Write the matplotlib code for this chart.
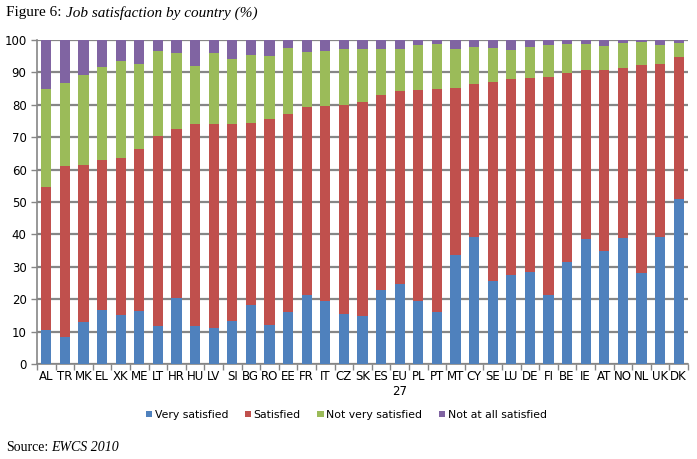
import matplotlib.pyplot as plt
import numpy as np

countries = ["AL", "TR", "MK", "EL", "XK", "ME", "LT", "HR", "HU", "LV", "SI", "BG",
             "RO", "EE", "FR", "IT", "CZ", "SK", "ES", "EU\n27", "PL", "PT", "MT", "CY",
             "SE", "LU", "DE", "FI", "BE", "IE", "AT", "NO", "NL", "UK", "DK"]

# cumulative tops
very_top = [10.5, 8.2, 13.1, 16.7, 15.0, 16.3, 11.7, 20.5, 11.7, 11.1, 13.4, 18.1,
            12.0, 16.1, 21.2, 19.3, 15.5, 14.9, 22.8, 24.8, 19.3, 16.0, 33.7, 39.1,
            25.6, 27.5, 28.5, 21.2, 31.6, 38.7, 34.8, 39.0, 28.1, 39.2, 51.0]
sat_top = [54.6, 61.2, 61.5, 63.0, 63.7, 66.4, 70.5, 72.5, 74.0, 74.0, 74.2, 74.4,
           75.5, 77.1, 79.4, 79.6, 79.9, 81.0, 83.0, 84.2, 84.4, 84.8, 85.1, 86.3,
           87.0, 88.0, 88.1, 88.7, 89.8, 90.6, 90.6, 91.2, 92.2, 92.5, 94.7]
notvery_top = [85.0, 86.6, 89.3, 91.6, 93.6, 92.7, 96.7, 96.0, 91.9, 96.0, 94.2, 95.5,
               94.9, 97.6, 96.2, 96.7, 97.1, 97.3, 97.3, 97.3, 98.4, 98.8, 97.3, 97.8,
               97.4, 96.8, 97.8, 98.4, 98.6, 98.6, 98.1, 99.1, 99.3, 98.5, 99.2]

very = np.array(very_top)
satisfied = np.array(sat_top) - very
not_very = np.array(notvery_top) - np.array(sat_top)
not_at_all = 100 - np.array(notvery_top)

colors = ["#4F81BD", "#C0504D", "#9BBB59", "#8064A2"]
labels = ["Very satisfied", "Satisfied", "Not very satisfied", "Not at all satisfied"]

fig = plt.figure(figsize=(6.97, 4.59), dpi=100)
ax = fig.add_axes([0.053, 0.207, 0.934, 0.706])

x = np.arange(len(countries))
w = 0.55
bottom = np.zeros(len(countries))
for vals, c, lab in zip([very, satisfied, not_very, not_at_all], colors, labels):
    ax.bar(x, vals, w, bottom=bottom, color=c, label=lab, zorder=3)
    bottom += vals

ax.set_xlim(-0.5, len(countries) - 0.5)
ax.set_ylim(0, 100)
ax.set_yticks(range(0, 101, 10))
ax.yaxis.grid(True, color="#868686", linewidth=1.6, zorder=0)
ax.set_axisbelow(True)

ax.set_xticks(x)
ax.set_xticklabels(countries, fontsize=8.5)
ax.set_xticks(np.arange(-0.5, len(countries), 1), minor=True)
ax.tick_params(axis="x", which="major", length=0, pad=4)
ax.tick_params(axis="x", which="minor", length=4, color="#868686", width=1)
ax.tick_params(axis="y", labelsize=8.5, length=4, color="#868686", width=1)

for s in ["top", "right"]:
    ax.spines[s].set_visible(False)
for s in ["left", "bottom"]:
    ax.spines[s].set_color("#868686")
    ax.spines[s].set_linewidth(1.2)

ax.legend(loc="center", bbox_to_anchor=(0.475, -0.157), ncol=4, frameon=False,
          fontsize=7.8, handlelength=0.6, handleheight=0.6, handletextpad=0.25,
          columnspacing=1.5)

# title in two fonts
t1 = fig.text(0.009, 0.972, "Figure 6:", family="Liberation Serif", fontsize=11,
              va="center", ha="left")
r = fig.canvas.get_renderer()
bb = t1.get_window_extent(r)
fig.text((bb.x1 + 4) / fig.bbox.width, 0.972, "Job satisfaction by country (%)",
         family="Liberation Serif", style="italic", fontsize=11, va="center", ha="left")

s1 = fig.text(0.009, 0.024, "Source:", family="Liberation Serif", fontsize=10,
              va="center", ha="left")
bb = s1.get_window_extent(r)
fig.text((bb.x1 + 3) / fig.bbox.width, 0.024, "EWCS 2010", family="Liberation Serif",
         style="italic", fontsize=10, va="center", ha="left")

fig.savefig("out.png", dpi=100)
